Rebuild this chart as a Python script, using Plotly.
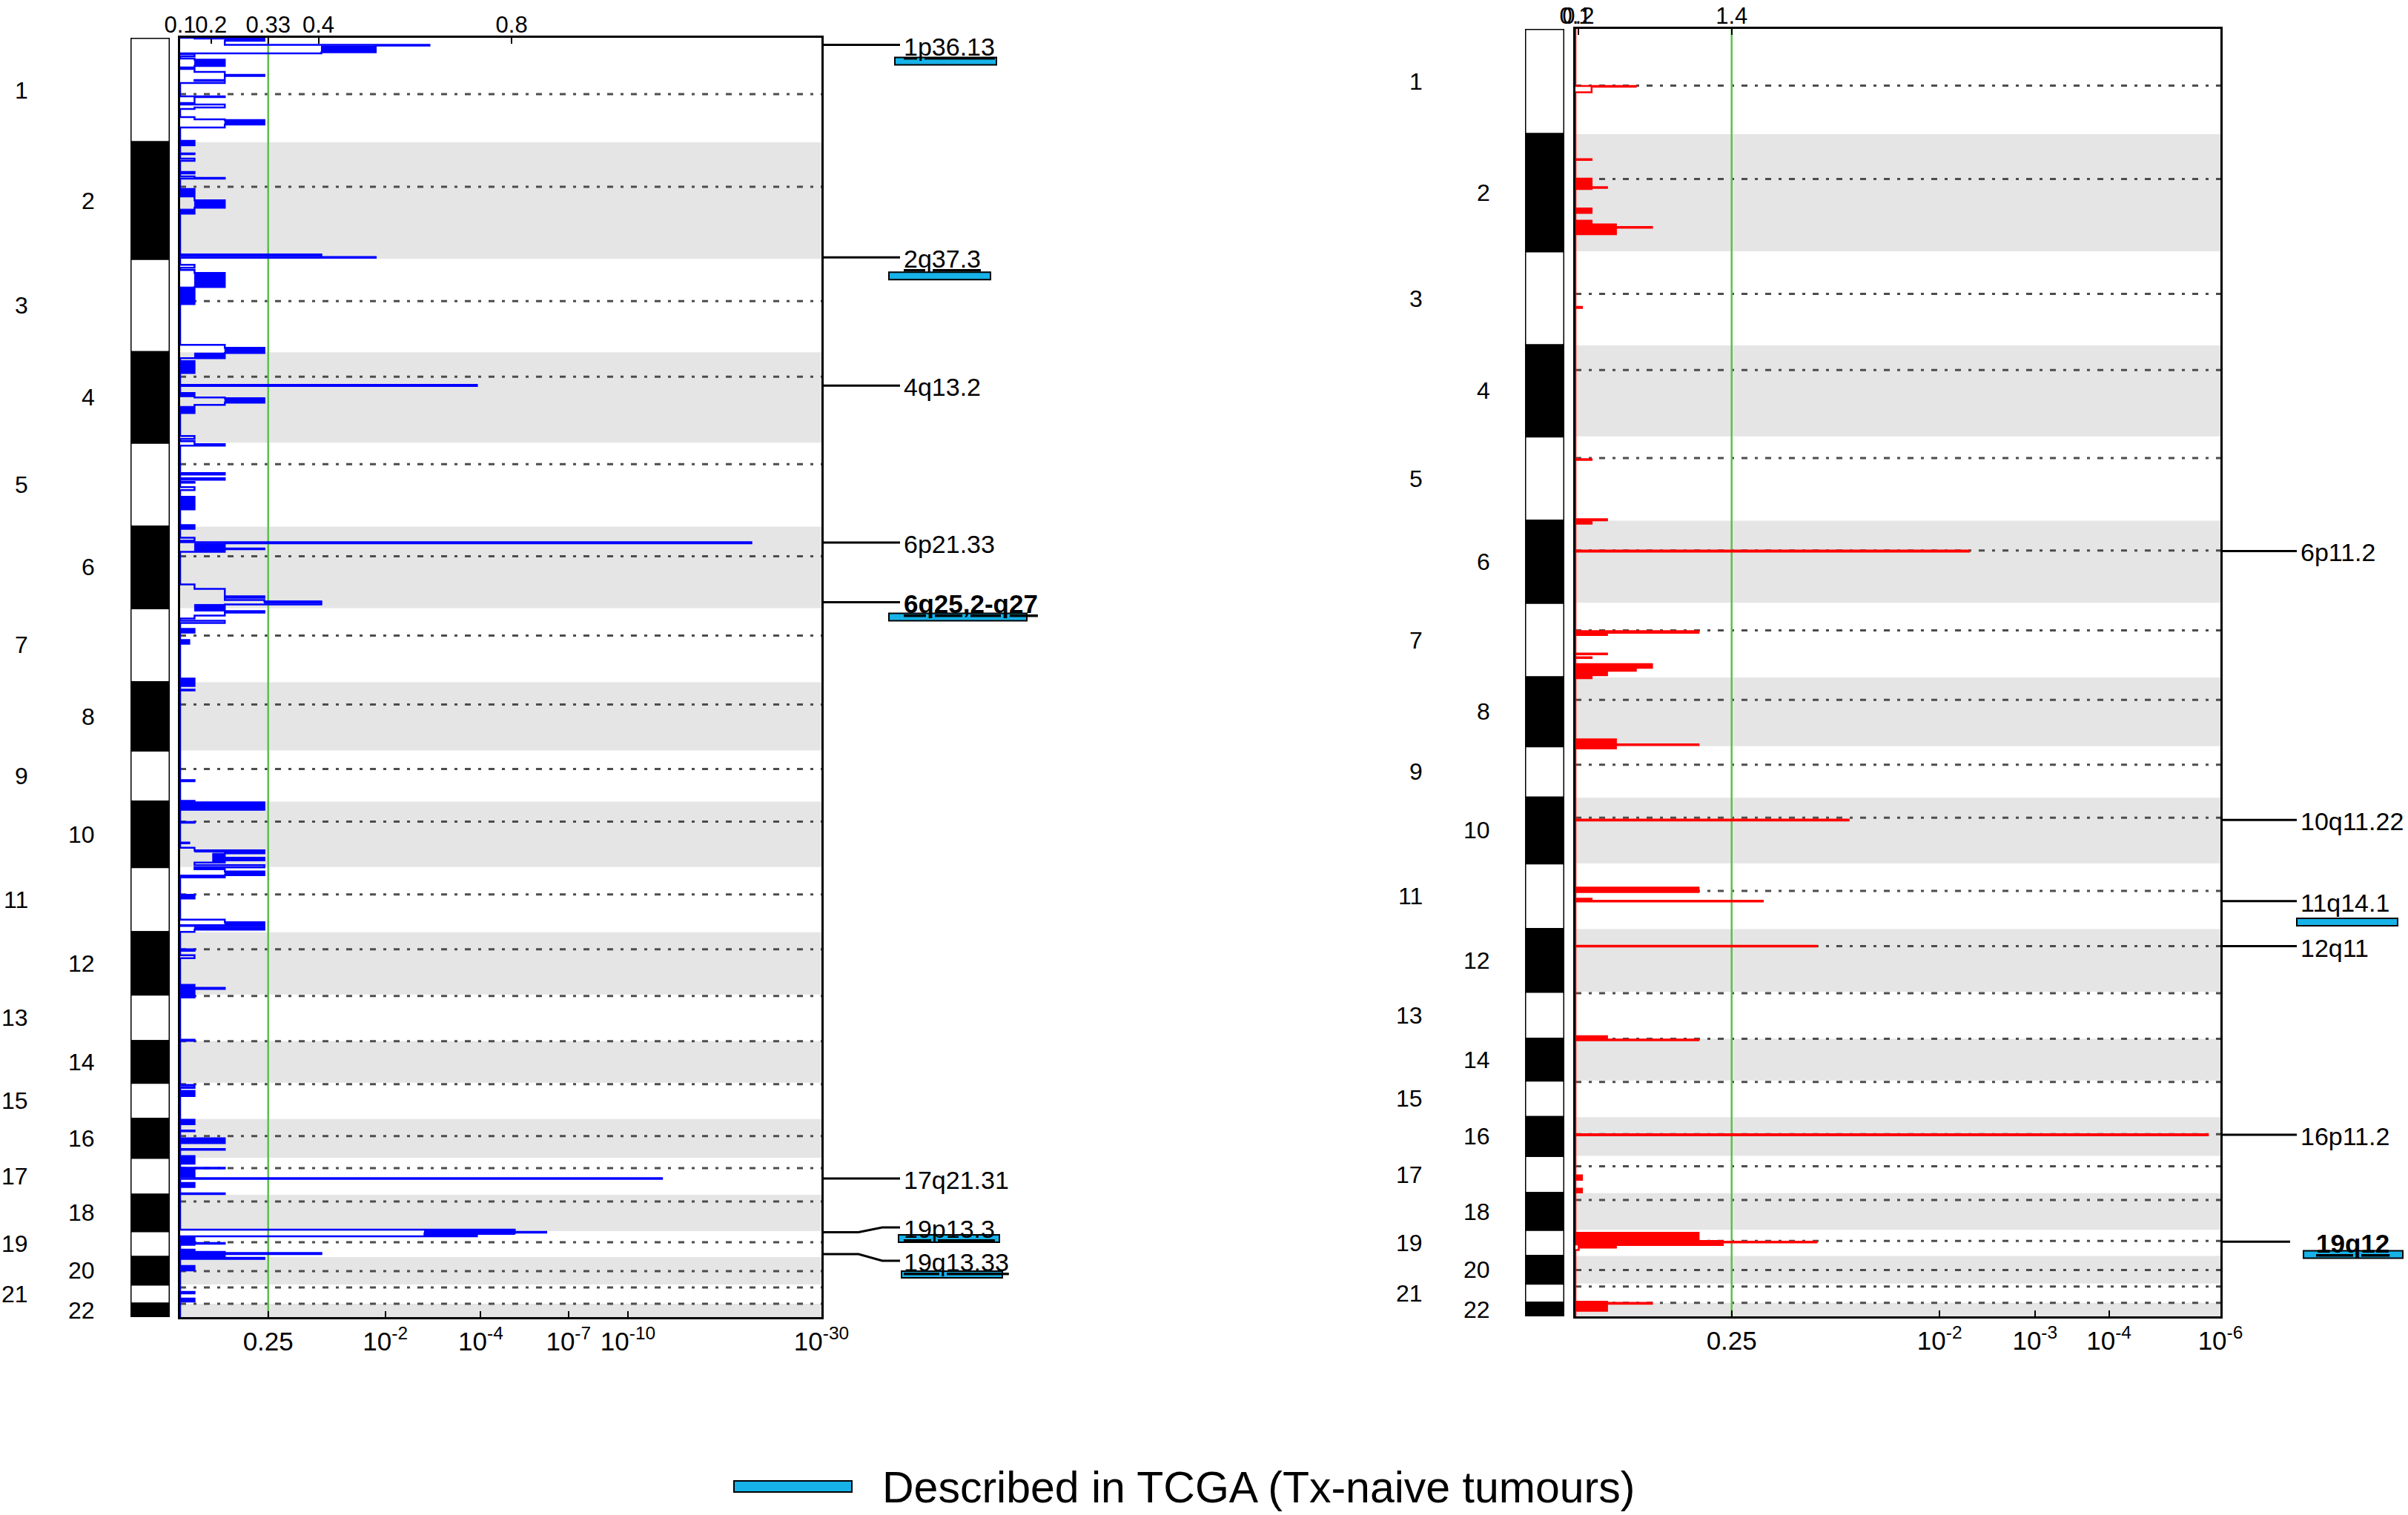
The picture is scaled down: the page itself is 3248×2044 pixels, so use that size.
import math
import plotly.graph_objects as go

W, H = 3248, 2044

# ---------------- data ----------------
chrom_labels = [str(i) for i in range(1, 23)]
chrom_size = [141, 157, 126, 122, 113, 110, 100, 92, 69, 88, 88, 84, 63, 56, 49, 52, 50, 49, 35, 37, 26, 18]
centromere_offset = [76, 60, 57, 33, 29, 40, 37, 30, 25, 27, 37, 23, 2, 0, 2, 23, 14, 9, 15, 19, 4, 0]

# left panel (blue) step profile: genome position where step starts, -log10(q) after it
left_step_pos = [
    0, 1, 4, 9.5, 10.5, 19.5, 21,
    22, 25, 28, 29.5, 38, 40,
    42, 46, 50, 51.5, 57, 58, 61,
    79, 80, 88, 90, 94, 96,
    107, 110, 111, 117, 121,
    139, 145, 156, 157, 163, 166,
    181, 183, 187, 189, 190,
    204, 212, 214, 219, 229, 237,
    292, 295.5, 296.5,
    306, 310, 313, 317, 336, 359,
    414, 418, 425, 432,
    436, 452,
    468, 469.5,
    479, 485, 486, 492, 495, 506,
    537, 541, 544, 548, 550,
    587, 589, 594, 596,
    599, 600, 606, 610,
    619, 636,
    657, 662,
    674, 678,
    680, 681.5, 688.5, 689.5, 693,
    737, 743, 753, 755, 758, 760, 764, 773, 775, 779, 783, 786, 789,
    797, 802,
    812, 817,
    864, 874, 879, 880,
    1001, 1002.5,
    1029, 1031, 1035.5, 1036.5, 1041,
    1057.5, 1058.5,
    1085, 1086,
    1092, 1095.5, 1099.5, 1105.5, 1109, 1112, 1115.5, 1118.5, 1121, 1124, 1129, 1132,
    1155.5, 1160.5,
    1189, 1192.5, 1196.5, 1197.5, 1202.5, 1205.5,
    1229, 1231, 1237, 1241,
    1277, 1281, 1282.5, 1294,
    1351, 1352.5,
    1412, 1416, 1420, 1427,
    1459, 1465, 1473.5, 1474.5, 1484, 1490.5, 1498.5, 1499.5,
    1508, 1518, 1523.5, 1524.5, 1526, 1537.5, 1538.5, 1544, 1549.5, 1558, 1559,
    1607, 1610, 1611, 1612, 1613.5, 1616,
    1617, 1625, 1626, 1627.5,
    1634, 1637, 1638.5, 1640, 1645, 1646.5,
    1656, 1662,
    1691, 1693, 1700, 1704,
]
left_step_nlq = [
    0.08, 0.57, 0.27, 2.8, 1.85, 1.13, 0,
    0.08, 0, 0.08, 0.27, 0.08, 0,
    0.08, 0.27, 0.57, 0.27, 0.08, 0.27, 0,
    0.27, 0.08, 0, 0.27, 0.08, 0,
    0.08, 0.27, 0.57, 0.27, 0,
    0.08, 0, 0.08, 0, 0.08, 0,
    0.08, 0, 0.08, 0.27, 0,
    0.08, 0, 0.08, 0.27, 0.08, 0,
    1.13, 1.85, 0,
    0.08, 0, 0.08, 0.27, 0.08, 0,
    0.27, 0.57, 0.27, 0,
    0.08, 0,
    3.9, 0,
    0.08, 0.27, 0.57, 0.27, 0.08, 0,
    0.08, 0, 0.08, 0.27, 0,
    0.27, 0, 0.27, 0,
    0.08, 0, 0.08, 0,
    0.08, 0,
    0.08, 0,
    0.08, 0,
    20.3, 0.27, 0.57, 0.27, 0,
    0.08, 0.27, 0.57, 0.27, 0.57, 1.13, 0.27, 0.57, 0.27, 0.08, 0, 0.27, 0,
    0.08, 0,
    0.05, 0,
    0.08, 0, 0.08, 0,
    0.08, 0,
    0.08, 0.57, 0, 0.57, 0,
    0.08, 0,
    0.05, 0,
    0.08, 0.57, 0.27, 0.57, 0.27, 0.08, 0.57, 0.08, 0.27, 0.57, 0.27, 0,
    0.08, 0,
    0.27, 0.57, 0, 0.57, 0.08, 0,
    0.08, 0, 0.08, 0,
    0.08, 0.27, 0.08, 0,
    0.08, 0,
    0.08, 0, 0.08, 0,
    0.08, 0, 0.08, 0, 0.27, 0, 0.27, 0,
    0.08, 0, 0.27, 0, 0.08, 12.2, 0, 0.08, 0, 0.27, 0,
    5.0, 6.1, 5.0, 2.7, 3.9, 0,
    0.08, 0.27, 0.08, 0,
    0.08, 0.27, 1.13, 0.27, 0.57, 0,
    0.08, 0,
    0.08, 0, 0.08, 0,
]
# dense (solid-looking) stretches of the left profile
left_block_start = [1, 11, 29.5, 111, 139, 204, 219, 231, 292.5, 317, 336, 418, 425, 436, 479, 486, 497, 619, 657, 681.5,
                    759.5, 764, 797, 812, 864, 1029, 1031, 1037.5, 1095.5, 1099.5, 1105.5, 1124, 1129, 1155.5, 1192.5,
                    1199, 1277, 1414, 1421, 1459, 1484, 1508, 1526, 1544, 1608, 1612.5, 1617, 1634, 1637, 1656, 1691, 1700]
left_block_end = [4, 19.5, 38, 117, 145, 211, 229, 237, 295, 336, 359, 425, 432, 452, 484, 492, 506, 636, 662, 693,
                  762.5, 773, 802, 817, 874, 1032, 1034.5, 1041, 1098, 1112, 1108.5, 1128.5, 1132, 1160.5, 1196,
                  1202.5, 1294, 1416.5, 1427, 1465, 1490, 1518, 1537, 1549.5, 1613.5, 1616, 1627, 1637, 1646, 1662, 1693, 1704]
left_block_low = [0.27, 1.13, 0.08, 0.27, 0, 0, 0.08, 0, 0, 0.08, 0, 0.27, 0.08, 0, 0, 0.27, 0, 0, 0, 0.08,
                  0.57, 0.08, 0, 0, 0, 0, 0, 0, 0.08, 0.19, 0.27, 0.27, 0, 0, 0.27,
                  0.08, 0, 0, 0, 0, 0, 0, 0, 0, 2.7, 2.7, 0, 0, 0, 0, 0, 0]
left_block_high = [0.57, 1.85, 0.27, 0.57, 0.08, 0.08, 0.27, 0.08, 1.13, 0.27, 0.08, 0.57, 0.27, 0.08, 0.08, 0.57, 0.08, 0.08, 0.08, 0.27,
                   1.13, 0.27, 0.08, 0.05, 0.08, 0.08, 0.57, 0.57, 0.57, 0.27, 0.57, 0.57, 0.27, 0.08, 0.57,
                   0.57, 0.08, 0.08, 0.08, 0.08, 0.27, 0.08, 0.08, 0.08, 5.0, 3.9, 0.08, 0.08, 0.27, 0.08, 0.08, 0.08]

# right panel (red) step profile
right_step_pos = [76.5, 77.5, 85, 174.5, 175.5, 200.5, 212, 213, 214.5, 240.5, 246.5, 257, 262, 265.5, 266.5, 275,
                  372.5, 374, 576.5, 577.5, 657, 658.5, 663, 699, 700.5, 807, 809, 812, 837, 838, 842, 843,
                  851, 856, 860, 866, 870, 952, 958.5, 959.5, 964, 1059.5, 1060.5, 1150.5, 1156.5, 1165.5, 1168, 1169,
                  1228.5, 1229.5, 1349.5, 1354, 1355, 1481, 1482.5, 1536, 1542, 1554, 1559,
                  1613, 1624, 1625, 1626, 1629.5, 1632, 1633, 1636, 1705.5, 1707, 1708, 1717.5]
right_step_nlq = [0.20, 0.05, 0, 0.05, 0, 0.05, 0.10, 0.05, 0, 0.05, 0, 0.05, 0.13, 0.26, 0.13, 0,
                  0.02, 0, 0.05, 0, 0.10, 0.05, 0, 2.28, 0, 0.45, 0.10, 0, 0.10, 0, 0.05, 0,
                  0.26, 0.20, 0.10, 0.05, 0, 0.13, 0.45, 0.13, 0, 1.28, 0, 0.45, 0, 0.05, 0.76, 0,
                  1.07, 0, 0.10, 0.45, 0, 5.74, 0, 0.02, 0, 0.02, 0,
                  0.45, 0.56, 1.07, 0.56, 0.01, 0.13, 0.01, 0, 0.10, 0.26, 0.10, 0]
right_block_start = [200.5, 240.5, 257, 262, 657, 807, 851, 856, 860, 866, 952, 1150.5, 1165.5, 1349.5, 1536, 1554, 1613, 1624, 1705.5]
right_block_end = [214.5, 246.5, 262, 275, 663, 812, 856, 860, 866, 870, 964, 1156.5, 1168, 1355, 1542, 1559, 1624, 1629.5, 1717.5]
right_block_low = [0] * 19
right_block_high = [0.05, 0.05, 0.05, 0.13, 0.05, 0.10, 0.26, 0.20, 0.10, 0.05, 0.13, 0.45, 0.05, 0.10, 0.02, 0.02, 0.45, 0.56, 0.10]

q_threshold = 0.25

left_q_ticks = [0.25, 1e-2, 1e-4, 1e-7, 1e-10, 1e-30]
left_q_ticktext = ["0.25", "10<sup>-2</sup>", "10<sup>-4</sup>", "10<sup>-7</sup>", "10<sup>-10</sup>", "10<sup>-30</sup>"]
left_g_ticktext = ["0.1", "0.2", "0.33", "0.4", "0.8"]
left_g_tick_q = [1.0, 0.66, 0.25, 0.08, 1.26e-5]
left_q_min = 1e-30

right_q_ticks = [0.25, 1e-2, 1e-3, 1e-4, 1e-6]
right_q_ticktext = ["0.25", "10<sup>-2</sup>", "10<sup>-3</sup>", "10<sup>-4</sup>", "10<sup>-6</sup>"]
right_g_ticktext = ["0.1", "0.2", "1.4"]
right_g_tick_q = [1.0, 0.98, 0.25]
right_q_min = 1e-6

left_peak_labels = ["1p36.13", "2q37.3", "4q13.2", "6p21.33", "6q25,2-q27", "17q21.31", "19p13.3", "19q13.33"]
left_peak_pos = [9.5, 296, 469, 680.5, 761, 1538, 1610.5, 1640]
left_label_pos = [9.5, 296, 469, 680.5, 761, 1538, 1604, 1649]
left_peak_tcga = [True, True, False, False, True, False, True, True]

right_peak_labels = ["6p11.2", "10q11.22", "11q14.1", "12q11", "16p11.2", "19q12"]
right_peak_pos = [699.6, 1060, 1168.6, 1229, 1481.6, 1625]
right_label_pos = [699.6, 1060, 1168.6, 1229, 1481.6, 1625]
right_peak_tcga = [False, False, True, False, False, True]

legend_text = "Described in TCGA (Tx-naive tumours)"

# ---------------- styling / geometry ----------------
FONT = "Liberation Sans, Arial, sans-serif"
CYAN = "#17b2e8"
GREEN = "#5cbf4a"
BAND = "#e5e5e5"
DOT = "#4d4d4d"

BOLD = {"6q25,2-q27", "19q12"}
UNDERLINE = {"1p36.13", "2q37.3", "6q25,2-q27", "19p13.3", "19q13.33", "19q12"}
BARS = {  # x0, x1 (px), y offsets below label (genome units)
    "1p36.13": (1207, 1344, 17, 27),
    "2q37.3": (1199, 1336, 20, 30),
    "6q25,2-q27": (1199, 1385, 15, 25),
    "19p13.3": (1212, 1348, 10, 20),
    "19q13.33": (1216, 1352, 14, 23),
    "11q14.1": (3098, 3234, 23, 33),
    "19q12": (3107, 3241, 12, 22),
}

PANELS = [
    dict(xa="x", ya="y", xt="x5", xi="x3", box=(243, 1108, 51, 1777), ideo=(176, 229),
         lab_odd=40, lab_even=130, conn=(1108, 1214), text_x=1217, color="#0000ff",
         steps=(left_step_pos, left_step_nlq),
         blocks=(left_block_start, left_block_end, left_block_low, left_block_high),
         qmin=left_q_min, qt=(left_q_ticks, left_q_ticktext), gt=(left_g_tick_q, left_g_ticktext),
         peaks=(left_peak_labels, left_peak_pos, left_label_pos, left_peak_tcga)),
    dict(xa="x2", ya="y2", xt="x6", xi="x4", box=(2125, 2995, 39, 1776), ideo=(2057, 2110),
         lab_odd=1921, lab_even=2012, conn=(2995, 3098), text_x=3101, color="#ff0000",
         steps=(right_step_pos, right_step_nlq),
         blocks=(right_block_start, right_block_end, right_block_low, right_block_high),
         qmin=right_q_min, qt=(right_q_ticks, right_q_ticktext), gt=(right_g_tick_q, right_g_ticktext),
         peaks=(right_peak_labels, right_peak_pos, right_label_pos, right_peak_tcga)),
]


def T(nlq):
    return math.log10(1.0 + nlq)


def Tq(q):
    return math.log10(1.0 - math.log10(q))


def px(x):
    return x / W


def py(y):
    return 1.0 - y / H


genome_len = sum(chrom_size)
starts = []
acc = 0
for s in chrom_size:
    starts.append(acc)
    acc += s

fig = go.Figure()
shapes = []
annotations = []
layout_axes = {}


def axname(a):
    return "xaxis" + a[1:] if a.startswith("x") else "yaxis" + a[1:]


for P in PANELS:
    xa, ya, xt, xi = P["xa"], P["ya"], P["xt"], P["xi"]
    x0p, x1p, y0p, y1p = P["box"]
    col = P["color"]
    pos, nlq = P["steps"]
    assert len(pos) == len(nlq)

    # step profile
    pairs = sorted(zip(pos, nlq))
    xs, ys = [T(0)], [0.0]
    prev = 0.0
    for g, v in pairs:
        xs += [T(prev), T(v)]
        ys += [g, g]
        prev = v
    xs.append(T(prev))
    ys.append(genome_len)
    fig.add_trace(go.Scatter(x=xs, y=ys, mode="lines", line=dict(color=col, width=2.5),
                             xaxis=xa, yaxis=ya, hoverinfo="skip", showlegend=False))

    # dense blocks
    bs, be, bl, bh = P["blocks"]
    bx, by = [], []
    for a, b, lo, hi in zip(bs, be, bl, bh):
        bx += [T(lo), T(hi), T(hi), T(lo), T(lo), None]
        by += [a, a, b, b, a, None]
    fig.add_trace(go.Scatter(x=bx, y=by, mode="lines", fill="toself", fillcolor=col,
                             line=dict(color=col, width=1), xaxis=xa, yaxis=ya,
                             hoverinfo="skip", showlegend=False))

    # dummy traces so the extra axes exist
    fig.add_trace(go.Scatter(x=[0.5], y=[0], xaxis=xi, yaxis=ya, mode="markers",
                             marker=dict(opacity=0), hoverinfo="skip", showlegend=False))
    fig.add_trace(go.Scatter(x=[0], y=[0], xaxis=xt, yaxis=ya, mode="markers",
                             marker=dict(opacity=0), hoverinfo="skip", showlegend=False))

    # chromosome bands, centromere lines, ideogram, labels
    for i, lab in enumerate(chrom_labels):
        s, e = starts[i], starts[i] + chrom_size[i]
        if i % 2 == 1:
            shapes.append(dict(type="rect", xref=f"{xa} domain", yref=ya, x0=0, x1=1, y0=s, y1=e,
                               fillcolor=BAND, line=dict(width=0), layer="below"))
        shapes.append(dict(type="rect", xref=xi, yref=ya, x0=0, x1=1, y0=s, y1=e,
                           fillcolor="black" if i % 2 == 1 else "white",
                           line=dict(color="black", width=3), layer="above"))
        xr = P["lab_odd"] if i % 2 == 0 else P["lab_even"]
        annotations.append(dict(x=px(xr), xref="paper", y=(s + e) / 2, yref=ya, text=lab,
                                xanchor="right", yanchor="middle", showarrow=False,
                                font=dict(size=32, color="black", family=FONT)))
    for i in range(len(chrom_labels)):
        c = starts[i] + centromere_offset[i]
        shapes.append(dict(type="line", xref=f"{xa} domain", yref=ya, x0=0, x1=1, y0=c, y1=c,
                           line=dict(color=DOT, width=3, dash="8px,10px,4px,10px"), layer="below"))

    # significance threshold
    shapes.append(dict(type="line", xref=xa, yref=f"{ya} domain", x0=Tq(q_threshold), x1=Tq(q_threshold),
                       y0=0, y1=1, line=dict(color=GREEN, width=2.5), layer="below"))

    # peak annotations
    labels, ppos, lpos, tcga = P["peaks"]
    c0, c1 = P["conn"]
    for lab, pk, lp, tc in zip(labels, ppos, lpos, tcga):
        cend = c1 if lab != "19q12" else 3089
        if abs(lp - pk) > 0.1:
            path = (f"M {px(c0)},{pk} L {px(c0 + 50)},{pk} L {px(c0 + 82)},{lp} L {px(cend)},{lp}")
            shapes.append(dict(type="path", xref="paper", yref=ya, path=path,
                               line=dict(color="black", width=3)))
        else:
            shapes.append(dict(type="line", xref="paper", yref=ya, x0=px(c0), x1=px(cend), y0=pk, y1=pk,
                               line=dict(color="black", width=3)))
        txt = lab
        if lab in UNDERLINE:
            txt = f"<u>{txt}</u>"
        if lab in BOLD:
            txt = f"<b>{txt}</b>"
        tx = P["text_x"] if lab != "19q12" else 3122
        annotations.append(dict(x=px(tx), xref="paper", y=lp + 2, yref=ya, text=txt,
                                xanchor="left", yanchor="middle", showarrow=False,
                                font=dict(size=35 if lab in BOLD else 34, color="black", family=FONT)))
        if tc and lab in BARS:
            bx0, bx1, d0, d1 = BARS[lab]
            shapes.append(dict(type="rect", xref="paper", yref=ya, x0=px(bx0), x1=px(bx1),
                               y0=lp + d0, y1=lp + d1, fillcolor=CYAN, line=dict(color="black", width=2)))

    # axes
    qv, qtxt = P["qt"]
    gq, gtxt = P["gt"]
    rng = [0, Tq(P["qmin"])]
    layout_axes[axname(xa)] = dict(domain=[px(x0p), px(x1p)], range=rng, anchor=ya, automargin=False,
                                   tickmode="array", tickvals=[Tq(q) for q in qv], ticktext=qtxt,
                                   ticks="inside", ticklen=8, tickwidth=2, tickcolor="black",
                                   showline=True, linewidth=3, linecolor="black", mirror=True,
                                   showgrid=False, zeroline=False, tickangle=0,
                                   tickfont=dict(size=35, color="black", family=FONT))
    layout_axes[axname(xt)] = dict(overlaying=xa, side="top", anchor=ya, range=rng, automargin=False,
                                   tickmode="array", tickvals=[Tq(q) for q in gq], ticktext=gtxt,
                                   ticks="inside", ticklen=8, tickwidth=2, tickcolor="black",
                                   showline=False, showgrid=False, zeroline=False, tickangle=0,
                                   tickfont=dict(size=31, color="black", family=FONT))
    layout_axes[axname(ya)] = dict(domain=[py(y1p), py(y0p)], range=[genome_len, 0], anchor=xa,
                                   automargin=False,
                                   showticklabels=False, ticks="", showline=True, linewidth=3,
                                   linecolor="black", mirror=True, showgrid=False, zeroline=False)
    i0, i1 = P["ideo"]
    layout_axes[axname(xi)] = dict(domain=[px(i0), px(i1)], range=[0, 1], anchor=ya, visible=False,
                                   automargin=False)

# legend
shapes.append(dict(type="rect", xref="paper", yref="paper", x0=px(990), x1=px(1149), y0=py(2013), y1=py(1998),
                   fillcolor=CYAN, line=dict(color="black", width=2)))
annotations.append(dict(x=px(1188), xref="paper", y=py(2007), yref="paper", text=legend_text,
                        xanchor="left", yanchor="middle", showarrow=False,
                        font=dict(size=59, color="black", family=FONT)))

fig.update_layout(template="none", width=W, height=H, autosize=False, margin=dict(l=0, r=0, t=0, b=0, pad=0),
                  paper_bgcolor="white", plot_bgcolor="white", showlegend=False,
                  font=dict(family=FONT, color="black"),
                  shapes=shapes, annotations=annotations, **layout_axes)

fig.write_html("out.html", config={"responsive": False, "displayModeBar": False},
               post_script="document.body.style.margin='0px';")
